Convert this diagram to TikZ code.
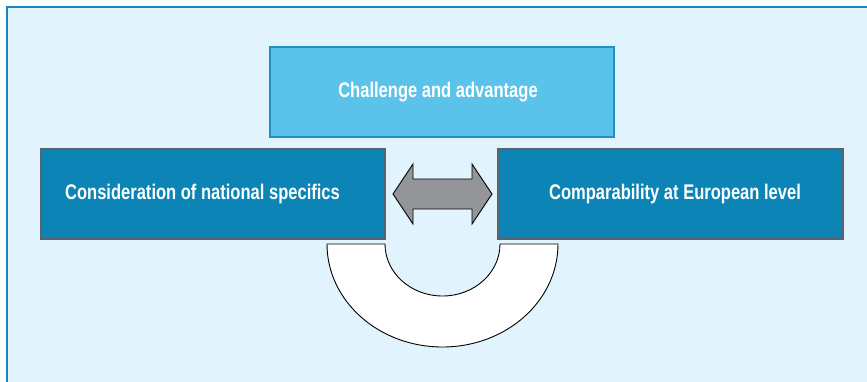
\documentclass[tikz,border=0pt]{standalone}
\usepackage{fontspec}
\setmainfont[FakeStretch=0.78]{Liberation Sans}
\definecolor{bgblue}{HTML}{E1F3FD}
\definecolor{framblue}{HTML}{1688BE}
\definecolor{lightbox}{HTML}{5BC2E9}
\definecolor{lightedge}{HTML}{1E90C3}
\definecolor{darkbox}{HTML}{0C84B6}
\definecolor{darkedge}{HTML}{58636B}
\definecolor{arrowgray}{HTML}{939598}
\tikzset{
  boxtext/.style={text=white, font=\bfseries\fontsize{21.2}{24}\selectfont, inner sep=0pt},
  lightstyle/.style={fill=lightbox, draw=lightedge, line width=1.2pt},
  darkstyle/.style={fill=darkbox, draw=darkedge, line width=1.3pt},
}
\begin{document}
\begin{tikzpicture}[x=1pt,y=-1pt]
\useasboundingbox (0,0) rectangle (867,381);
\begin{scope}
\clip (0,0) rectangle (867,381);
\draw[fill=bgblue, draw=framblue, line width=2.4pt] (7,7) rectangle (880,395);
\end{scope}
% boxes
\draw[lightstyle] (270,47) rectangle (614,137);
\draw[darkstyle] (41,149) rectangle (385,239);
\draw[darkstyle] (498,149) rectangle (843,239);
\node[boxtext] (top) at (438,92) {Challenge and advantage};
\node[boxtext] (left) at (202.5,194) {Consideration of national specifics};
\node[boxtext] (right) at (675,194) {Comparability at European level};
% double arrow
\draw[fill=arrowgray, draw=black, line width=0.9pt, line join=miter]
  (393,194) -- (413,164) -- (413,179) -- (472,179) -- (472,164) -- (492,194)
  -- (472,224) -- (472,209) -- (413,209) -- (413,224) -- cycle;
% semi annulus
\draw[fill=white, draw=black, line width=0.9pt]
  (327,244) arc[start angle=180, end angle=0, x radius=115.5, y radius=103]
  -- (500,244) arc[start angle=0, end angle=180, x radius=57.5, y radius=52]
  -- cycle;
\end{tikzpicture}
\end{document}
